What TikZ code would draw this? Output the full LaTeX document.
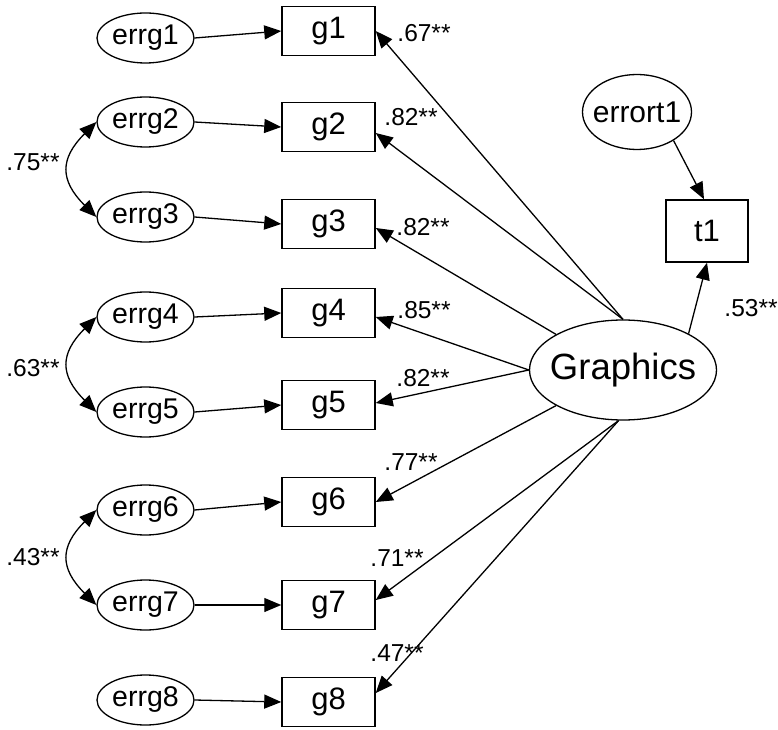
\documentclass[tikz,border=0pt]{standalone}
\usepackage{fontspec}
\setmainfont{Liberation Sans}
\usetikzlibrary{shapes.geometric,arrows.meta}
\begin{document}
\begin{tikzpicture}[x=1pt,y=1pt,
  latent/.style={ellipse, draw, line width=1.3pt, inner sep=0pt},
  errnode/.style={latent, minimum width=97pt, minimum height=50pt, font=\fontsize{28.5}{28.5}\selectfont},
  obs/.style={rectangle, draw, line width=1.5pt, inner sep=0pt, minimum width=93pt, minimum height=49pt, font=\fontsize{31}{31}\selectfont},
  regpath/.style={line width=1.3pt, -{Triangle[length=17pt,width=14pt]}},
  cov/.style={line width=1.3pt, {Triangle[length=17pt,width=14pt]}-{Triangle[length=17pt,width=14pt]}, looseness=1.4},
  coef/.style={font=\fontsize{24.5}{24.5}\selectfont, inner sep=0pt}]
\useasboundingbox (0,0) rectangle (778,729);

% error terms
\node[errnode] (e1) at (145.5,691) {\makebox[0pt]{errg1}};
\node[errnode] (e2) at (145.5,607) {\makebox[0pt]{errg2}};
\node[errnode] (e3) at (145.5,512) {\makebox[0pt]{errg3}};
\node[errnode] (e4) at (145.5,412) {\makebox[0pt]{errg4}};
\node[errnode] (e5) at (145.5,317) {\makebox[0pt]{errg5}};
\node[errnode] (e6) at (145.5,219) {\makebox[0pt]{errg6}};
\node[errnode] (e7) at (145.5,124) {\makebox[0pt]{errg7}};
\node[errnode] (e8) at (145.5,29)  {\makebox[0pt]{errg8}};

% observed indicators
\node[obs] (g1) at (328.5,698) {g1};
\node[obs] (g2) at (328.5,602) {g2};
\node[obs] (g3) at (328.5,505) {g3};
\node[obs] (g4) at (328.5,416) {g4};
\node[obs] (g5) at (328.5,324) {g5};
\node[obs] (g6) at (328.5,227) {g6};
\node[obs] (g7) at (328.5,124) {g7};
\node[obs] (g8) at (328.5,27)  {g8};

% latent factor, outcome and its error
\node[latent, minimum width=187pt, minimum height=100pt, font=\fontsize{36.5}{36.5}\selectfont] (G) at (623,359) {\makebox[0pt]{Graphics}};
\node[latent, minimum width=109pt, minimum height=75pt, font=\fontsize{30}{30}\selectfont] (et) at (637,617) {\makebox[0pt]{errort1}};
\node[obs, minimum width=82pt, minimum height=62pt] (t1) at (707,498) {t1};

% error -> indicator paths
\draw[regpath] (e1.east) -- (g1.west);
\draw[regpath] (e2.east) -- (g2.west);
\draw[regpath] (e3.east) -- (g3.west);
\draw[regpath] (e4.east) -- (g4.west);
\draw[regpath] (e5.east) -- (g5.west);
\draw[regpath] (e6.east) -- (g6.west);
\draw[regpath] (e7.east) -- (g7.west);
\draw[regpath] (e8.east) -- (g8.west);

% factor loadings
\draw[regpath] (G.north) -- (g1.east);
\draw[regpath] (G.north) -- ([yshift=-6pt]g2.east);
\draw[regpath] (G.152) -- ([yshift=-4pt]g3.east);
\draw[regpath] (G.west) -- ([yshift=-4pt]g4.east);
\draw[regpath] (G.west) -- ([yshift=2pt]g5.east);
\draw[regpath] (G.208) -- (g6.east);
\draw[regpath] (G.265) -- ([yshift=5pt]g7.east);
\draw[regpath] (G.265) -- ([yshift=9pt]g8.east);
\draw[regpath] (G.29) -- (t1.south);
\draw[regpath] (et.-38) -- ([xshift=-3pt]t1.north);

% error covariances
\draw[cov] (e2.west) to[out=225,in=135] (e3.west);
\draw[cov] (e4.west) to[out=225,in=135] (e5.west);
\draw[cov] (e6.west) to[out=225,in=135] (e7.west);

% coefficients
\node[coef] (c1) at (424,696) {.67**};
\node[coef] (c2) at (411,612) {.82**};
\node[coef] (c3) at (423,502) {.82**};
\node[coef] (c4) at (424,419) {.85**};
\node[coef] (c5) at (423,351) {.82**};
\node[coef] (c6) at (411,267) {.77**};
\node[coef] (c7) at (397,171) {.71**};
\node[coef] (c8) at (397,76)  {.47**};
\node[coef] (ct) at (751,421) {.53**};
\node[coef] (r23) at (33,567) {.75**};
\node[coef] (r45) at (33,361) {.63**};
\node[coef] (r67) at (33,172) {.43**};
\end{tikzpicture}
\end{document}
